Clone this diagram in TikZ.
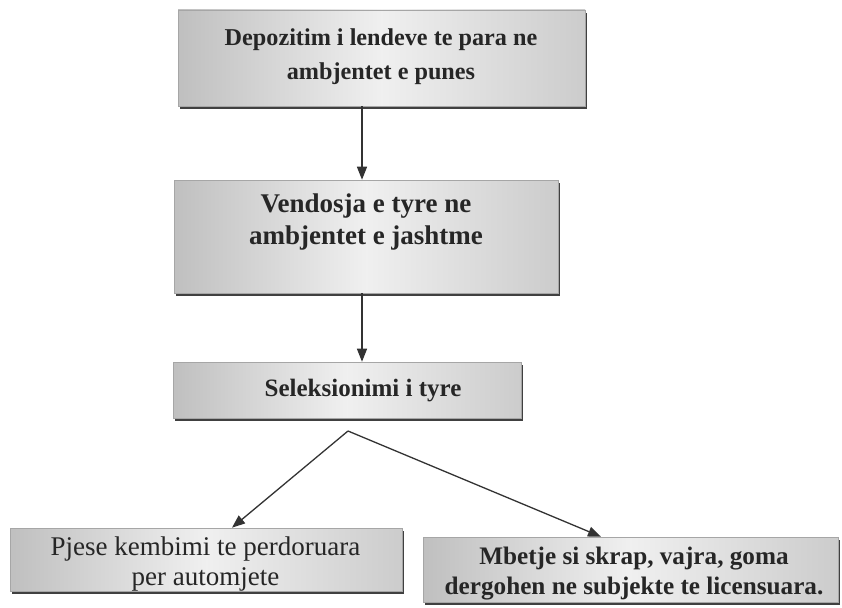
\documentclass[tikz,border=0pt]{standalone}
\usepackage{fontspec}
\setmainfont{Liberation Serif}
\usetikzlibrary{arrows.meta,shadows}
\tikzset{
  box/.style={draw=gray!70, line width=0.6pt, rectangle, inner sep=0pt,
    left color=gray!50, right color=gray!40, middle color=gray!12,
    drop shadow={shadow xshift=1.5pt, shadow yshift=-3pt, fill=black!75, opacity=1}},
  txt/.style={align=center, text=black!85, inner sep=0pt},
  arr/.style={line width=1.3pt, black!80, -{Triangle[length=13pt,width=10pt]}}
}
\begin{document}
\begin{tikzpicture}[x=1pt,y=1pt]
\useasboundingbox[fill=white] (0,0) rectangle (842,-607);
% boxes
\node[box, minimum width=407pt, minimum height=96pt] (b1) at (381.5,-58) {};
\node[box, minimum width=384pt, minimum height=113pt] (b2) at (366,-236.5) {};
\node[box, minimum width=348pt, minimum height=56pt] (b3) at (347,-390) {};
\node[box, minimum width=392pt, minimum height=63pt] (b4) at (206,-559.5) {};
\node[box, minimum width=415pt, minimum height=65pt] (b5) at (630.5,-569.5) {};
% texts
\node[txt, font=\bfseries\fontsize{24.2}{34}\selectfont] (t1) at (381,-57)
  {Depozitim i lendeve te para ne\\ambjentet e punes};
\node[txt, font=\bfseries\fontsize{27}{32}\selectfont] (t2) at (366,-222)
  {Vendosja e tyre ne\\ambjentet e jashtme};
\node[txt, font=\bfseries\fontsize{25}{30}\selectfont] (t3) at (363,-391)
  {Seleksionimi i tyre};
\node[txt, font=\fontsize{27}{30}\selectfont] (t4) at (205.5,-564)
  {Pjese kembimi te perdoruara\\per automjete};
\node[txt, font=\bfseries\fontsize{25.2}{30}\selectfont] (t5) at (634,-574)
  {Mbetje si skrap, vajra, goma\\dergohen ne subjekte te licensuara.};
% connectors
\coordinate (split) at (348,-431);
\draw[arr] (b1.south -| 362,0) -- (b2.north -| 362,0);
\draw[arr] (b2.south -| 362,0) -- (b3.north -| 362,0);
\draw[arr] (split) -- (b4.north -| 232,0);
\draw[arr] (split) -- (b5.north -| 601,0);
\end{tikzpicture}
\end{document}
